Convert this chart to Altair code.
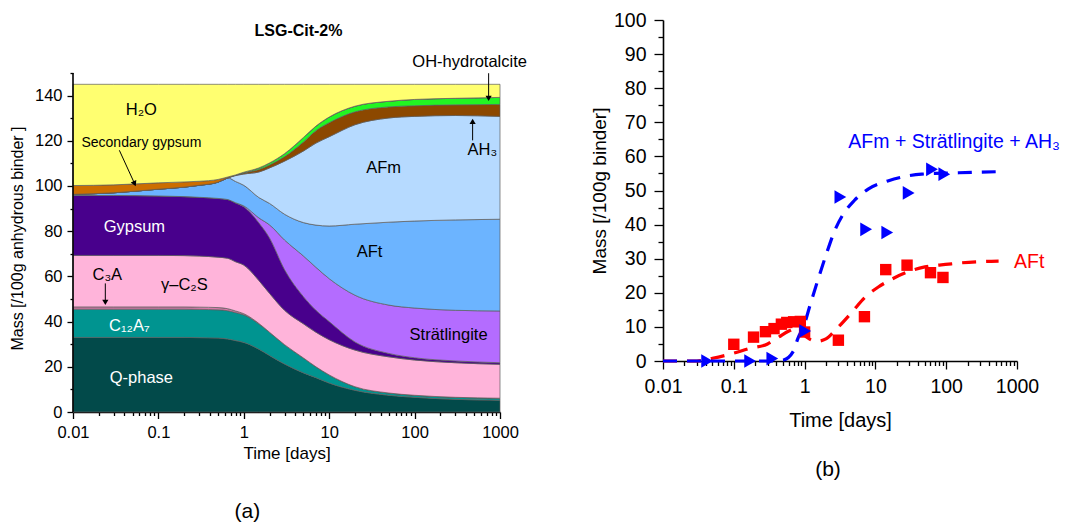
import altair as alt
import pandas as pd

FONT = "Liberation Sans"

# ---------------- panel (a): phase assemblage (stacked masses) ----------------
time_a = [0.01, 0.03, 0.1, 0.2, 0.3, 0.5, 0.65, 0.8, 1, 1.5, 2, 3, 5, 7, 10, 20, 50, 100, 300, 1000]
q_phase = [33, 33, 33, 33, 32.9, 32.7, 32.3, 31.6, 30.8, 27.8, 25, 21.2, 17.3, 15.2, 12.8, 9.6, 7.4, 6.5, 5.6, 5.2]
c12a7 = [12.5, 12.5, 12.5, 12.5, 12.5, 12.5, 12.5, 12.4, 12.2, 11.2, 10.3, 8.6, 6.6, 4.8, 3.6, 1.6, 1.0, 0.9, 0.9, 0.9]
c3a = [1.0, 1.0, 1.0, 1.0, 1.0, 1.0, 0.9, 0.7, 0.5, 0.2, 0, 0, 0, 0, 0, 0, 0, 0, 0, 0]
c2s = [22.8, 22.8, 22.8, 22.7, 22.6, 22.3, 22.3, 21.8, 21.5, 19.0, 17.2, 15.2, 15.1, 15.3, 15.6, 16.2, 16.0, 15.6, 15.3, 15.0]
gypsum = [26.5, 26.5, 26.3, 26.1, 26.0, 26.0, 26.0, 26.0, 25.8, 25.5, 24.5, 18.0, 12.0, 9.7, 8.0, 3.6, 1.5, 1.0, 0.8, 0.7]
stratlingite = [0, 0, 0, 0, 0, 0, 0, 0.1, 0.4, 2.2, 5.8, 13.1, 18.0, 19.0, 19.0, 20.7, 21.4, 22.0, 22.4, 22.9]
aft = [0.5, 1.2, 3.0, 4.2, 5.3, 7.2, 9.6, 9.4, 9.1, 9.0, 9.5, 11.4, 14.8, 18.7, 23.3, 31.4, 36.7, 38.5, 40.0, 40.6]
afm = [0, 0, 0, 0, 0, 0, 0, 2.6, 5.0, 11.3, 15.7, 23.5, 31.7, 36.3, 39.5, 44.0, 46.1, 46.3, 46.2, 45.5]
ah3 = [0, 0, 0, 0, 0, 0, 0, 0.2, 0.5, 1.1, 1.3, 2.0, 4.0, 5.5, 6.2, 5.7, 4.9, 4.7, 4.7, 5.3]
hydrotalcite = [0, 0, 0, 0, 0, 0, 0, 0.1, 0.3, 0.7, 0.9, 1.3, 2.0, 2.0, 2.5, 2.5, 2.5, 2.8, 2.9, 3.1]
sec_gypsum = [3.9, 3.5, 2.8, 2.3, 1.8, 1.2, 0.4, 0, 0, 0, 0, 0, 0, 0, 0, 0, 0, 0, 0, 0]
h2o = [44.8, 44.5, 43.6, 43.2, 42.9, 42.1, 41.0, 40.1, 38.9, 37.0, 34.8, 30.7, 23.5, 18.5, 14.5, 9.7, 7.5, 6.7, 6.2, 5.8]

phase_names = ["Q-phase", "C12A7", "C3A", "g-C2S", "Gypsum", "Stratlingite", "AFt", "AFm",
               "AH3", "OH-hydrotalcite", "Secondary gypsum", "H2O"]
phase_colors = ["#024a4a", "#009490", "#d47aa8", "#ffb4da", "#48008c", "#b46cff", "#6cb4ff", "#b6daff",
                "#8c4800", "#22f522", "#cc6e00", "#ffff70"]
phase_series = [q_phase, c12a7, c3a, c2s, gypsum, stratlingite, aft, afm, ah3, hydrotalcite, sec_gypsum, h2o]

# annotations of panel (a) (data coordinates: time, mass)
lab_black_text = ["H₂O", "AFm", "AFt", "Strätlingite", "AH₃", "OH-hydrotalcite", "C₃A", "γ–C₂S"]
lab_black_t = [0.0632, 43.3, 29.7, 250, 620, 441, 0.0252, 0.2015]
lab_black_v = [133.5, 107.8, 70.7, 33.9, 116.0, 154.7, 60.5, 56.1]
lab_white_text = ["Gypsum", "C₁₂A₇", "Q-phase"]
lab_white_t = [0.0523, 0.0457, 0.0632]
lab_white_v = [81.7, 37.9, 14.9]
lab_small_text = ["Secondary gypsum"]
lab_small_t = [0.0632]
lab_small_v = [118.9]
arrow_t1 = [0.0349, 0.0239, 478, 736]
arrow_v1 = [115.8, 56.9, 120.2, 149.9]
arrow_t2 = [0.0527, 0.0239, 478, 736]
arrow_v2 = [101.0, 48.5, 128.6, 138.8]
arrow_shape = ["triangle-down", "triangle-down", "triangle-up", "triangle-down"]
arrow_angle = [335, 0, 0, 0]
axis_line_t = [0.01]
axis_line_v = [0]
axis_line_v2 = [150]
title_a = ["LSG-Cit-2%"]
title_a_t = [4.37]
title_a_v = [168.5]
caption_a = ["(a)"]
caption_a_t = [1.10]
caption_a_v = [-44.4]

# ---------------- panel (b): measured vs. modelled ----------------
aft_obs_t = [0.1, 0.19, 0.28, 0.37, 0.47, 0.56, 0.70, 0.87, 1.0, 3.0, 7.0, 14, 28, 60, 90]
aft_obs = [4.9, 7.0, 8.6, 9.5, 10.8, 11.3, 11.5, 11.6, 8.5, 6.1, 13.0, 26.8, 28.1, 25.9, 24.5]
afm_obs_t = [0.042, 0.17, 0.35, 1.02, 3.2, 7.4, 14.7, 29.5, 63, 94]
afm_obs = [0, 0, 0.7, 8.8, 48.1, 38.6, 37.7, 49.3, 56.2, 54.8]
afm_model_t = [0.01, 0.1, 0.3, 0.5, 0.7, 0.8, 1.0, 1.2, 1.5, 2, 2.7, 3.5, 5, 8, 15, 45, 150, 500]
afm_model = [0, 0, 0, 0.3, 3, 6.5, 11, 16.5, 23, 31, 38.5, 43, 47, 50.5, 52.8, 54.8, 55.2, 55.5]
aft_model_t = [0.01, 0.03, 0.05, 0.1, 0.16, 0.3, 0.43, 0.6, 0.75, 0.9, 1.1, 1.5, 2, 2.7, 4.7, 7, 11, 16,
               33, 50, 108, 165, 350, 550]
aft_model = [0, 0, 0.8, 2.3, 3.6, 5, 7, 8.8, 9.5, 8.5, 6.8, 5.8, 6.5, 9, 14.4, 18.5, 21.7, 23.7,
             26.6, 27.6, 28.4, 28.8, 29.2, 29.3]
lab_b_text = ["AFm + Strätlingite + AH₃", "AFt"]
lab_b_t = [4.15, 908]
lab_b_v = [64.1, 28.9]
lab_b_color = ["#0000ff", "#ff0000"]
caption_b = ["(b)"]
caption_b_t = [2.14]
caption_b_v = [-32.1]

# ---------------- helpers ----------------
LOG_TICKS = [round(m * 10 ** e, 4) for e in range(-2, 3) for m in range(1, 10)] + [1000]
MAJOR_LOG = "abs(log(datum.value)/LN10 - round(log(datum.value)/LN10)) < 0.001"


def x_axis(fs, tick_major, tick_minor, lpad, tpad):
    return alt.Axis(values=LOG_TICKS, format="~g",
                    labelExpr=f"({MAJOR_LOG}) ? datum.label : ''",
                    labelOverlap=False, labelFlush=False,
                    tickSize={"condition": {"test": MAJOR_LOG, "value": tick_major}, "value": tick_minor},
                    tickColor="black", tickWidth=1.3, domainColor="black", domainWidth=1.6,
                    labelFont=FONT, labelFontSize=fs, labelColor="black", labelPadding=lpad,
                    title="Time [days]", titleFont=FONT, titleFontSize=fs + 0.5,
                    titleFontWeight="normal", titleColor="black", titlePadding=tpad, grid=False)


def y_axis(title, values, major_test, label_test, fs, tick_major, tick_minor, lpad, tpad, **kw):
    return alt.Axis(values=values, labelExpr=f"({label_test}) ? datum.label : ''",
                    labelOverlap=False, labelFlush=False,
                    tickSize={"condition": {"test": major_test, "value": tick_major}, "value": tick_minor},
                    tickColor="black", tickWidth=1.3, domainColor="black", domainWidth=1.6,
                    labelFont=FONT, labelFontSize=fs, labelColor="black", labelPadding=lpad,
                    title=title, titleFont=FONT, titleFontSize=fs - 0.5,
                    titleFontWeight="normal", titleColor="black", titlePadding=tpad, grid=False, **kw)


H_A = 392
W_A = 427
xs_a = alt.Scale(type="log", domain=[0.01, 1000], nice=False)
ys_a = alt.Scale(domain=[0, 173.45], nice=False, zero=True)
ax_xa = x_axis(16.5, 6.5, 3.5, 6, 4)
ax_ya = y_axis("Mass [/100g anhydrous binder ]", list(range(0, 151, 10)),
               "datum.value % 20 == 0", "datum.value % 20 == 0 && datum.value <= 140",
               16.5, 6, 3, 5, 8.5, domain=False, titleY=218)

xs_b = alt.Scale(type="log", domain=[0.01, 1000], nice=False)
ys_b = alt.Scale(domain=[0, 100], nice=False, zero=True)
ax_xb = x_axis(19.5, 8, 4.5, 8, 15)
ax_yb = y_axis("Mass [/100g binder]", list(range(0, 101, 5)),
               "datum.value % 10 == 0", "datum.value % 10 == 0",
               19.5, 9, 5, 8, 3.5)


def XA(field="t"):
    return alt.X(f"{field}:Q", scale=xs_a, axis=ax_xa)


def YA(field="v", **kw):
    return alt.Y(f"{field}:Q", scale=ys_a, axis=ax_ya, **kw)


def XB(field="t"):
    return alt.X(f"{field}:Q", scale=xs_b, axis=ax_xb)


def YB(field="v"):
    return alt.Y(f"{field}:Q", scale=ys_b, axis=ax_yb)


# ---------------- build panel (a) ----------------
rows = []
for k, (name, series) in enumerate(zip(phase_names, phase_series)):
    for t, m in zip(time_a, series):
        rows.append({"t": t, "v": m, "phase": name, "k": k})
df_a = pd.DataFrame(rows)

areas = alt.Chart(df_a).mark_area(interpolate="monotone", stroke="#5c5c5c", strokeWidth=0.7).encode(
    x=XA(),
    y=YA(stack="zero"),
    color=alt.Color("phase:N", scale=alt.Scale(domain=phase_names, range=phase_colors), legend=None),
    order=alt.Order("k:Q", sort="ascending"),
)

df_axis_line = pd.DataFrame({"t": axis_line_t, "v": axis_line_v, "v2": axis_line_v2})
y_axis_line = alt.Chart(df_axis_line).mark_rule(color="black", strokeWidth=1.6).encode(
    x=XA(), y=YA(), y2="v2:Q")

df_black = pd.DataFrame({"t": lab_black_t, "v": lab_black_v, "label": lab_black_text})
df_white = pd.DataFrame({"t": lab_white_t, "v": lab_white_v, "label": lab_white_text})
df_small = pd.DataFrame({"t": lab_small_t, "v": lab_small_v, "label": lab_small_text})
txt_black = alt.Chart(df_black).mark_text(font=FONT, fontSize=16.5, color="black").encode(
    x=XA(), y=YA(), text="label:N")
txt_white = alt.Chart(df_white).mark_text(font=FONT, fontSize=16.5, color="white").encode(
    x=XA(), y=YA(), text="label:N")
txt_small = alt.Chart(df_small).mark_text(font=FONT, fontSize=14, color="black").encode(
    x=XA(), y=YA(), text="label:N")

df_arrows = pd.DataFrame({"t": arrow_t1, "v": arrow_v1, "t2": arrow_t2, "v2": arrow_v2,
                          "shape": arrow_shape, "ang": arrow_angle})
arrow_lines = alt.Chart(df_arrows).mark_rule(color="black", strokeWidth=1).encode(
    x=XA(), y=YA(), x2="t2:Q", y2="v2:Q")
arrow_heads = alt.Chart(df_arrows).mark_point(filled=True, color="black", opacity=1, size=38).encode(
    x=XA("t2"), y=YA("v2"),
    shape=alt.Shape("shape:N", scale=None),
    angle=alt.Angle("ang:Q", scale=None))

df_title = pd.DataFrame({"t": title_a_t, "v": title_a_v, "label": title_a})
title_mark = alt.Chart(df_title).mark_text(font=FONT, fontSize=16, fontWeight="bold", color="black").encode(
    x=XA(), y=YA(), text="label:N")
df_cap_a = pd.DataFrame({"t": caption_a_t, "v": caption_a_v, "label": caption_a})
cap_a = alt.Chart(df_cap_a).mark_text(font=FONT, fontSize=21, color="black").encode(
    x=XA(), y=YA(), text="label:N")

panel_a = alt.layer(areas, y_axis_line, arrow_lines, arrow_heads, txt_black, txt_white, txt_small,
                    title_mark, cap_a).properties(width=W_A, height=H_A)

# ---------------- build panel (b) ----------------
df_aft_obs = pd.DataFrame({"t": aft_obs_t, "v": aft_obs})
df_afm_obs = pd.DataFrame({"t": afm_obs_t, "v": afm_obs})
df_afm_mod = pd.DataFrame({"t": afm_model_t, "v": afm_model})
df_aft_mod = pd.DataFrame({"t": aft_model_t, "v": aft_model})

line_aft = alt.Chart(df_aft_mod).mark_line(color="#ff0000", strokeWidth=3.2, strokeDash=[14, 10],
                                           interpolate="monotone").encode(x=XB(), y=YB())
line_afm = alt.Chart(df_afm_mod).mark_line(color="#0000ff", strokeWidth=3.2, strokeDash=[14, 10],
                                           interpolate="monotone").encode(x=XB(), y=YB())
pts_aft = alt.Chart(df_aft_obs).mark_point(shape="square", filled=True, color="#ff0000", opacity=1,
                                           size=130).encode(x=XB(), y=YB())
pts_afm = alt.Chart(df_afm_obs).mark_point(shape="triangle-right", filled=True, color="#0000ff",
                                           opacity=1, size=185).encode(x=XB(), y=YB())
df_lab_b = pd.DataFrame({"t": lab_b_t, "v": lab_b_v, "label": lab_b_text, "col": lab_b_color})
txt_b = alt.Chart(df_lab_b).mark_text(font=FONT, fontSize=19.5, align="left").encode(
    x=XB(), y=YB(), text="label:N", color=alt.Color("col:N", scale=None))
df_cap_b = pd.DataFrame({"t": caption_b_t, "v": caption_b_v, "label": caption_b})
cap_b = alt.Chart(df_cap_b).mark_text(font=FONT, fontSize=21, color="black").encode(
    x=XB(), y=YB(), text="label:N")

panel_b = alt.layer(line_aft, line_afm, pts_aft, pts_afm, txt_b, cap_b).properties(width=354, height=341)

chart = alt.hconcat(panel_a, panel_b, spacing=63).properties(
    padding={"left": 1, "top": 2, "right": 0, "bottom": 0}
).configure_view(stroke=None)

chart.save("out.html", embed_options={"renderer": "svg", "actions": False})
